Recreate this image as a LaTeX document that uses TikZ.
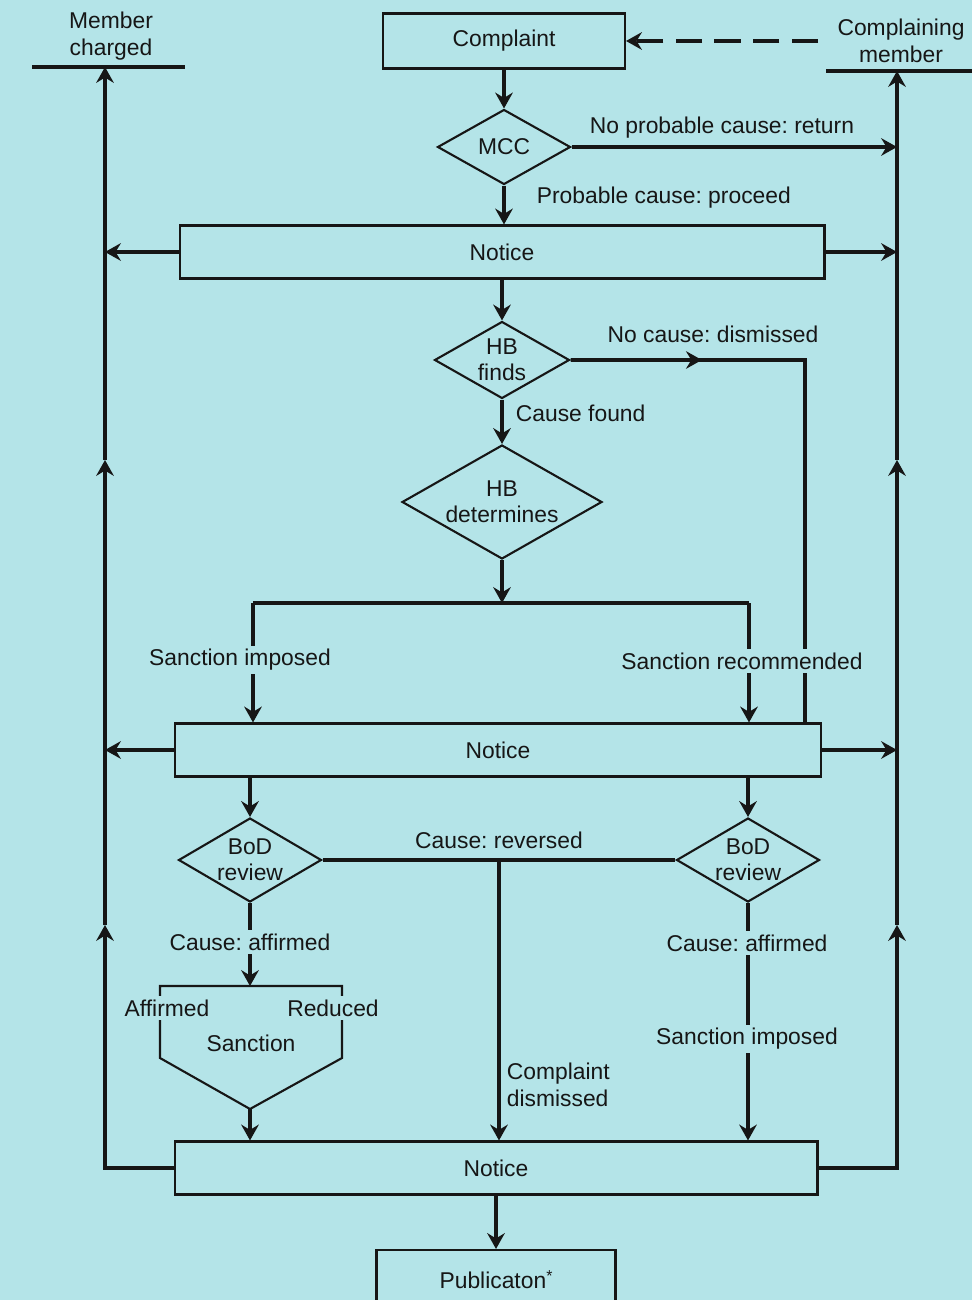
\documentclass[tikz,border=0pt]{standalone}
\usepackage{fontspec}
\setmainfont{Liberation Sans}
\usetikzlibrary{shapes.geometric,arrows.meta,calc}

\definecolor{paper}{RGB}{180,228,232}
\definecolor{ink}{RGB}{22,22,22}

\begin{document}
\frenchspacing
\begin{tikzpicture}[x=0.02cm, y=-0.02cm, color=ink,
  font=\fontsize{13}{15}\selectfont,
  >={Stealth[length=9pt, width=10pt, inset=3pt]},
  flow/.style={draw=ink, line width=1.8pt},
  arrow/.style={flow, ->},
  bar/.style={draw=ink, line width=2pt},
  box/.style={draw=ink, line width=1.2pt, minimum height=1.06cm, inner sep=0pt},
  decision/.style={diamond, draw=ink, line width=1.2pt, inner sep=-4pt, align=center},
  lbl/.style={fill=paper, inner sep=2pt, align=center}]

  % page
  \useasboundingbox (0,0) rectangle (972,1300);
  \fill[paper] (0,0) rectangle (972,1300);

  % coordinates
  \coordinate (mcL) at (32,67);
  \coordinate (mcR) at (185,67);
  \coordinate (cmL) at (826,71);
  \coordinate (cmR) at (972,71);
  \coordinate (ltop) at (105,67);
  \coordinate (lup2) at (105,460);
  \coordinate (lup1) at (105,925);
  \coordinate (rtop) at (897,71);
  \coordinate (rup2) at (897,460);
  \coordinate (rup1) at (897,925);
  \coordinate (dash) at (818,41);

  % boxes and decisions
  \node[box, minimum width=4.84cm, minimum height=1.1cm] (complaint) at (504,41) {Complaint};
  \node[decision, aspect=1.77, minimum width=2.66cm, minimum height=1.5cm] (mcc) at (504,147) {MCC};
  \node[box, minimum width=12.9cm] (notice1) at (502,252) {Notice};
  \node[decision, aspect=1.75, minimum width=2.7cm, minimum height=1.54cm] (hbf) at (502,360) {HB\\finds};
  \node[decision, aspect=1.75, minimum width=4cm, minimum height=2.28cm] (hbd) at (502,502) {HB\\determines};
  \node[box, minimum width=12.92cm] (notice2) at (498,750) {Notice};
  \node[decision, aspect=1.7, minimum width=2.86cm, minimum height=1.68cm] (bodl) at (250,860) {BoD\\review};
  \node[decision, aspect=1.7, minimum width=2.86cm, minimum height=1.68cm] (bodr) at (748,860) {BoD\\review};
  \node[box, minimum width=12.86cm] (notice3) at (496,1168) {Notice};
  \node[box, minimum width=4.78cm, minimum height=1.2cm] (pub) at (496,1280) {Publicaton\raisebox{4pt}{\fontsize{9}{9}\selectfont *}};

  % members
  \draw[bar] (mcL) -- (mcR);
  \draw[bar] (cmL) -- (cmR);
  \draw[arrow, dash pattern=on 15pt off 7pt] (dash) -- (complaint.east);

  % spine
  \draw[arrow] (complaint) -- (mcc);
  \draw[arrow] (mcc.south) -- (mcc.south |- notice1.north);
  \draw[arrow] (notice1.south -| hbf.north) -- (hbf.north);
  \draw[arrow] (hbf) -- (hbd);
  \draw[arrow] (mcc.east) -- (mcc.east -| rtop);

  % notices out to both members
  \draw[arrow] (notice1.west) -- (notice1.west -| ltop);
  \draw[arrow] (notice1.east) -- (notice1.east -| rtop);
  \draw[arrow] (notice2.west) -- (notice2.west -| ltop);
  \draw[arrow] (notice2.east) -- (notice2.east -| rtop);

  % no cause
  \coordinate (hbturn) at (805,360);
  \draw[flow] (hbf.east) -- (hbturn) -- (hbturn |- notice2.north);
  \draw[arrow] (hbf.east) -- ($(hbf.east)!0.56!(hbturn)$);

  % determination
  \coordinate (brl) at (253,603);
  \coordinate (brr) at (749,603);
  \draw[flow] (brl) -- (brr);
  \draw[arrow] (hbd.south) -- (hbd.south |- brl);
  \draw[arrow] (brl) -- (brl |- notice2.north);
  \draw[arrow] (brr) -- (brr |- notice2.north);

  % board review
  \draw[arrow] (bodl.north |- notice2.south) -- (bodl.north);
  \draw[arrow] (bodr.north |- notice2.south) -- (bodr.north);
  \draw[flow] (bodl.east) -- (bodr.west);
  \coordinate (revd) at ($(bodl.east)!0.5!(bodr.west)$);
  \draw[arrow] (revd) -- (revd |- notice3.north);

  % sanction funnel
  \coordinate (stop) at (250,986);
  \coordinate (stip) at (250,1109);
  \draw[arrow] (bodl.south) -- (stop);
  \draw[draw=ink, line width=1.2pt] (160,1058) -- (160,986) -- (342,986) -- (342,1058) -- (stip) -- cycle;
  \draw[arrow] (stip) -- (stip |- notice3.north);
  \draw[arrow] (bodr.south) -- (bodr.south |- notice3.north);

  % publication
  \draw[arrow] (notice3) -- (pub);

  % back up to the members
  \draw[arrow] (notice3.west) -- (notice3.west -| lup1) -- (lup1);
  \draw[arrow] (lup1) -- (lup2);
  \draw[arrow] (lup2) -- (ltop);
  \draw[arrow] (notice3.east) -- (notice3.east -| rup1) -- (rup1);
  \draw[arrow] (rup1) -- (rup2);
  \draw[arrow] (rup2) -- (rtop);

  % labels
  \node[lbl] (charged) at (111,36) {Member\\charged};
  \node[lbl] (complaining) at (901,41) {Complaining\\member};
  \node[lbl] (lnoprob) at (722,128) {No probable cause: return};
  \node[lbl, anchor=west] (lprob) at (533,198) {Probable cause: proceed};
  \node[lbl] (lnocause) at (713,334) {No cause: dismissed};
  \node[lbl, anchor=west] (lfound) at (512,413) {Cause found};
  \node[lbl] (lsimp) at (240,660) {Sanction imposed};
  \node[lbl] (lsrec) at (742,661) {Sanction recommended};
  \node[lbl] (lrev) at (499,840) {Cause: reversed};
  \node[lbl] (laffl) at (250,942) {Cause: affirmed};
  \node[lbl] (laffr) at (747,943) {Cause: affirmed};
  \node[lbl] (laff) at (167,1008) {Affirmed};
  \node[lbl] (lred) at (333,1008) {Reduced};
  \node (lsanc) at (251,1043) {Sanction};
  \node[lbl] (lsimp2) at (747,1039) {Sanction imposed};
  \node[lbl, anchor=west, align=left] (ldis) at (503,1085) {Complaint\\dismissed};
\end{tikzpicture}
\end{document}
